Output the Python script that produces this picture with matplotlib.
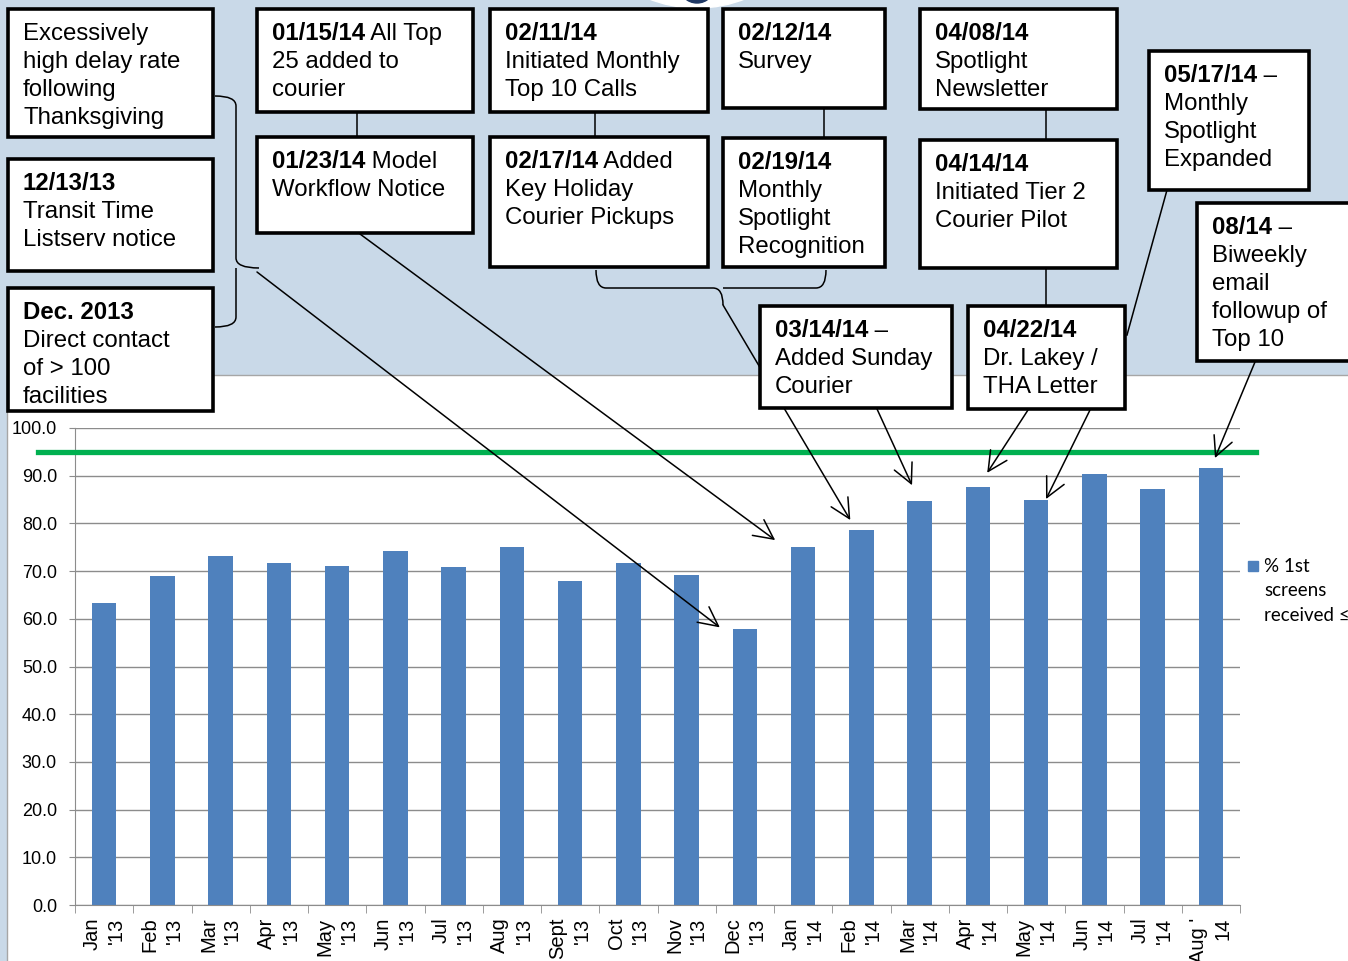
import numpy as np
import matplotlib.pyplot as plt
from matplotlib.patches import Rectangle, Circle, PathPatch
from matplotlib.path import Path
from matplotlib.lines import Line2D
from matplotlib.transforms import Affine2D, blended_transform_factory

# monthly share of first screens received on time
months = ["Jan\n'13", "Feb\n'13", "Mar\n'13", "Apr\n'13", "May\n'13", "Jun\n'13",
          "Jul\n'13", "Aug\n'13", "Sept\n'13", "Oct\n'13", "Nov\n'13", "Dec\n'13",
          "Jan\n'14", "Feb\n'14", "Mar\n'14", "Apr\n'14", "May\n'14", "Jun\n'14",
          "Jul\n'14", "Aug '\n14"]
pct_first_screens = [63.3, 69.0, 73.2, 71.7, 71.1, 74.2, 70.9, 75.1, 67.9, 71.7,
                     69.2, 57.9, 75.1, 78.6, 84.7, 87.6, 84.9, 90.4, 87.2, 91.6]
target = 95.0
legend_lines = ["% 1st", "screens", "received \u2264"]

# intervention notes: (bold date, rest of first line, following lines)
notes = [
    ("", "Excessively", ["high delay rate", "following", "Thanksgiving"]),
    ("12/13/13", "", ["Transit Time", "Listserv notice"]),
    ("Dec. 2013", "", ["Direct contact", "of > 100", "facilities"]),
    ("01/15/14", " All Top", ["25 added to", "courier"]),
    ("01/23/14", " Model", ["Workflow Notice"]),
    ("02/11/14", "", ["Initiated Monthly", "Top 10 Calls"]),
    ("02/17/14", " Added", ["Key Holiday", "Courier Pickups"]),
    ("02/12/14", "", ["Survey"]),
    ("02/19/14", "", ["Monthly", "Spotlight", "Recognition"]),
    ("04/08/14", "", ["Spotlight", "Newsletter"]),
    ("04/14/14", "", ["Initiated Tier 2", "Courier Pilot"]),
    ("05/17/14", " \u2013", ["Monthly", "Spotlight", "Expanded"]),
    ("08/14", " \u2013", ["Biweekly", "email", "followup of", "Top 10"]),
    ("03/14/14", " \u2013", ["Added Sunday", "Courier"]),
    ("04/22/14", "", ["Dr. Lakey /", "THA Letter"]),
]
# box corners in pixels (left, top, right, bottom)
note_boxes = [
    (8, 9, 213, 137), (8, 159, 213, 271), (8, 288, 213, 411),
    (257, 9, 473, 112), (257, 137, 473, 233),
    (490, 9, 708, 112), (490, 137, 708, 267),
    (723, 9, 885, 108), (723, 138, 885, 267),
    (920, 9, 1117, 109), (920, 140, 1117, 268),
    (1149, 51, 1309, 190), (1197, 203, 1362, 361),
    (760, 306, 952, 408), (968, 306, 1125, 409),
]
# arrows: start pixel, bar index, offset of the tip from the bar top
arrows = [
    ((257, 272), 11, -0.43, 0.3),
    ((360, 234), 12, -0.48, 1.4),
    ((723, 305), 13, -0.19, 2.1),
    ((877, 409), 14, -0.13, 3.3),
    ((1028, 410), 15, 0.16, 3.0),
    ((1090, 410), 16, 0.17, 0.2),
    ((1255, 362), 19, 0.07, 2.1),
]

bar_color = '#4F81BD'
bg_blue = '#C9D9E8'
grid_gray = '#8C8C8C'

W, H = 1348, 961
fig = plt.figure(figsize=(W / 100, H / 100), dpi=100)
px = Affine2D().scale(1 / W, -1 / H).translate(0, 1) + fig.transFigure

# backdrop: blue slide, white chart panel, piece of a logo at the top
fig.add_artist(Rectangle((0, 0), W, H, transform=px, color=bg_blue, zorder=-5))
fig.add_artist(Circle((697, -123), 131, transform=px, color='white', zorder=-4))
fig.add_artist(Circle((697, -15), 18, transform=px, color='#1F3864', zorder=-4))
fig.add_artist(Rectangle((6.5, 374.5), W, H, transform=px, facecolor='white',
                         edgecolor='#A6A6A6', lw=1, zorder=-3))

ax = fig.add_axes([75 / W, 1 - 905 / H, (1240 - 75) / W, (905 - 428) / H])
ax.set_facecolor('none')
x = np.arange(len(months))
ax.bar(x, pct_first_screens, width=0.42, color=bar_color, zorder=2)
ax.set_xlim(-0.5, len(months) - 0.5)
ax.set_ylim(0, 100)
ax.set_yticks(np.arange(0, 101, 10))
ax.set_yticklabels([f'{v:.1f}' for v in np.arange(0, 101, 10)],
                   fontsize=13, family='Liberation Sans')
ax.yaxis.grid(True, color=grid_gray, lw=1)
ax.set_axisbelow(True)
ax.tick_params(axis='y', length=4, color=grid_gray, pad=9)
ax.set_xticks(x)
ax.set_xticklabels(months, rotation=90, fontsize=14.5, family='Liberation Sans',
                   va='top', ha='center', multialignment='right', linespacing=1.35)
ax.set_xticks(np.arange(-0.5, len(months)), minor=True)
ax.tick_params(axis='x', which='major', length=0, pad=9)
ax.tick_params(axis='x', which='minor', length=6, color=grid_gray)
for s in ['top', 'right']:
    ax.spines[s].set_visible(False)
for s in ['left', 'bottom']:
    ax.spines[s].set_color(grid_gray)

# target line runs past both ends of the plot area
goal = blended_transform_factory(fig.transFigure, ax.transData)
ax.add_line(Line2D([38 / W, 1256 / W], [target, target], transform=goal,
                   color='#00B050', lw=3.8, clip_on=False, zorder=3))

# arrows from the notes to the monthly bars
for (sx, sy), i, dx, dy in arrows:
    ax.annotate('', xy=(i + dx, pct_first_screens[i] + dy), xycoords='data',
                xytext=(sx, sy), textcoords=px, annotation_clip=False,
                arrowprops=dict(arrowstyle='->,head_length=0.7,head_width=0.35',
                                mutation_scale=20, color='black', lw=1.1,
                                shrinkA=0, shrinkB=0))

# connectors between stacked notes
for (x0, y0), (x1, y1) in [((357, 112), (357, 137)), ((595, 112), (595, 137)),
                           ((824, 108), (824, 138)), ((1046, 109), (1046, 140)),
                           ((1046, 268), (1046, 306)), ((1167, 190), (1127, 335))]:
    fig.add_artist(Line2D([x0, x1], [y0, y1], transform=px, color='black',
                          lw=1.1, zorder=1))

# curly braces grouping notes
C3 = Path.CURVE3
brace_left = Path([(215, 96), (236, 96), (236, 106), (236, 258), (236, 268), (259, 268),
                   (236, 268), (236, 278), (236, 317), (236, 327), (215, 327)],
                  [Path.MOVETO, C3, C3, Path.LINETO, C3, C3,
                   Path.MOVETO, C3, Path.LINETO, C3, C3])
brace_low = Path([(596, 270), (596, 288), (606, 288), (713, 288), (723, 288), (723, 305),
                  (723, 288), (733, 288), (816, 288), (826, 288), (826, 270)],
                 [Path.MOVETO, C3, C3, Path.LINETO, C3, C3,
                  Path.MOVETO, C3, Path.LINETO, C3, C3])
for p in (brace_left, brace_low):
    fig.add_artist(PathPatch(p, transform=px, fill=False, edgecolor='black',
                             lw=1.1, zorder=1))

# note boxes
box_font = dict(fontsize=17.3, family='Liberation Sans', color='black')
renderer = fig.canvas.get_renderer()
for (bold, rest, lines), (x0, y0, x1, y1) in zip(notes, note_boxes):
    fig.add_artist(Rectangle((x0, y0), x1 - x0, y1 - y0, transform=px,
                             facecolor='white', edgecolor='black', lw=2.6, zorder=2))
    tx, base = x0 + 15, y0 + 31
    offset = 0
    if bold:
        t = fig.text(tx, base, bold, transform=px, va='baseline', fontweight='bold',
                     zorder=3, **box_font)
        offset = t.get_window_extent(renderer).width
    if rest:
        fig.text(tx + offset, base, rest, transform=px, va='baseline', zorder=3,
                 **box_font)
    for k, line in enumerate(lines, start=1):
        fig.text(tx, base + 28 * k, line, transform=px, va='baseline', zorder=3,
                 **box_font)

# legend
fig.add_artist(Rectangle((1248, 561), 10, 10, transform=px, color=bar_color))
for k, line in enumerate(legend_lines):
    fig.text(1264, 572 + 24.5 * k, line, transform=px, va='baseline',
             fontsize=13.5, family='Lato')

fig.savefig('out.png', dpi=100)
